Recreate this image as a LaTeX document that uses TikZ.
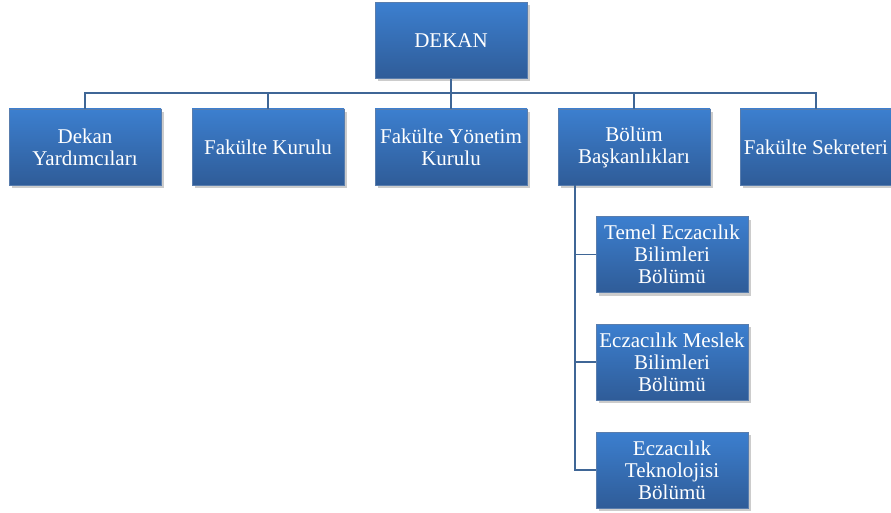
\documentclass[tikz,border=0pt]{standalone}
\usepackage{fontspec}
\setmainfont{Liberation Serif}
\usetikzlibrary{shadows}
\definecolor{boxtop}{HTML}{3C7FCF}
\definecolor{boxbot}{HTML}{2F5C98}
\definecolor{linkcol}{HTML}{3F6696}
\tikzset{
  unit/.style={rectangle, minimum width=152pt, minimum height=76pt, inner sep=1pt,
    top color=boxtop, bottom color=boxbot, draw=boxbot!80!white, line width=0.4pt,
    drop shadow={shadow xshift=3pt, shadow yshift=-3pt, fill=black!25, opacity=0.8},
    text=white, align=center, font=\fontsize{21}{22}\selectfont},
  link/.style={draw=linkcol, line width=1.8pt}
}
\begin{document}
\begin{tikzpicture}[x=1pt,y=-1pt]
  \useasboundingbox (0,0) rectangle (891,513);
  % ust
  \node[unit] (dekan) at (451,40.5) {DEKAN};
  % ikinci sira
  \node[unit] (yard) at (85,147) {Dekan\\Yard\i mc\i lar\i};
  \node[unit] (kurul) at (268,147) {Fakülte Kurulu};
  \node[unit] (yonetim) at (451,147) {Fakülte Yönetim\\Kurulu};
  \node[unit] (bolum) at (634,147) {Bölüm\\Başkanl\i klar\i};
  \node[unit] (sekreter) at (816,147) {Fakülte Sekreteri};
  % bolumler
  \node[unit] (temel) at (672,254.5) {Temel Eczac\i l\i k\\Bilimleri\\Bölümü};
  \node[unit] (meslek) at (672,362) {Eczac\i l\i k Meslek\\Bilimleri\\Bölümü};
  \node[unit] (tekno) at (672,470) {Eczac\i l\i k\\Teknolojisi\\Bölümü};

  \coordinate (bus) at (451,93);
  \draw[link] (dekan.south) -- (bus);
  \foreach \n in {yard,kurul,yonetim,bolum,sekreter}
    \draw[link] (\n.north) |- (bus);
  \coordinate (trunk) at ([xshift=-59pt]bolum.south);
  \foreach \n in {temel,meslek,tekno}
    \draw[link] (trunk) |- (\n.west);
\end{tikzpicture}
\end{document}
